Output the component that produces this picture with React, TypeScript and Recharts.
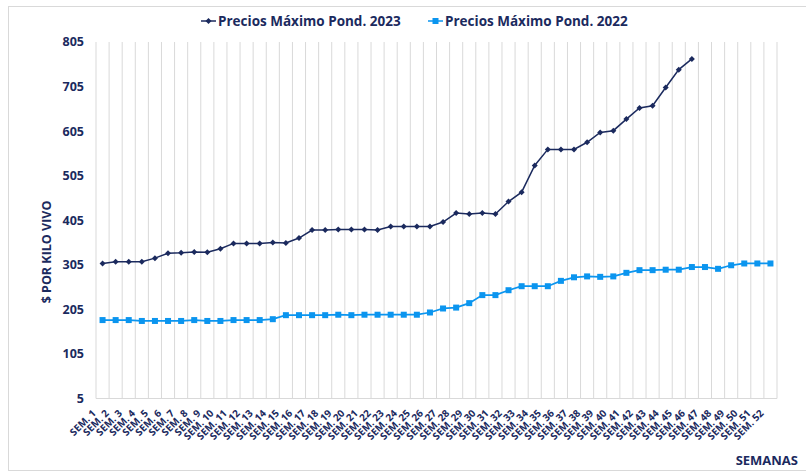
import { LineChart, Line, XAxis, YAxis, CartesianGrid } from "recharts";

const weeks = [
  "SEM. 1", "SEM. 2", "SEM. 3", "SEM. 4", "SEM. 5", "SEM. 6", "SEM. 7", "SEM. 8", "SEM. 9", "SEM. 10",
  "SEM. 11", "SEM. 12", "SEM. 13", "SEM. 14", "SEM. 15", "SEM. 16", "SEM. 17", "SEM. 18", "SEM. 19", "SEM. 20",
  "SEM. 21", "SEM. 22", "SEM. 23", "SEM. 24", "SEM. 25", "SEM. 26", "SEM. 27", "SEM. 28", "SEM. 29", "SEM. 30",
  "SEM. 31", "SEM. 32", "SEM. 33", "SEM. 34", "SEM. 35", "SEM. 36", "SEM. 37", "SEM. 38", "SEM. 39", "SEM. 40",
  "SEM. 41", "SEM. 42", "SEM. 43", "SEM. 44", "SEM. 45", "SEM. 46", "SEM. 47", "SEM. 48", "SEM. 49", "SEM. 50",
  "SEM. 51", "SEM. 52",
];

// 2023 only runs to week 46
const precios2023 = [
  308, 312, 312, 312, 320, 331, 332, 334, 333, 341,
  353, 353, 353, 355, 354, 365, 383, 383, 384, 384,
  384, 383, 391, 391, 391, 391, 401, 421, 419, 421,
  419, 447, 468, 528, 564, 564, 564, 580, 602, 606,
  632, 657, 662, 703, 743, 767,
];

const precios2022 = [
  181, 181, 181, 179, 179, 179, 179, 181, 179, 179,
  181, 181, 181, 183, 192, 192, 192, 192, 193, 192,
  193, 193, 193, 193, 193, 198, 207, 209, 219, 237,
  237, 248, 257, 257, 257, 269, 277, 279, 278, 279,
  287, 293, 293, 294, 294, 300, 300, 296, 304, 308,
  308, 308,
];

const yTicks = [5, 105, 205, 305, 405, 505, 605, 705, 805];

const NAVY = "#1b2a5e";
const BLUE = "#0b95ef";
const GRID = "#d9d9d9";
const FONT = "'Open Sans', sans-serif";

const data = weeks.map((w, i) => ({
  week: w,
  p2023: i < precios2023.length ? precios2023[i] : null,
  p2022: precios2022[i],
}));

const DiamondDot = (props: any) => {
  const { cx, cy, index } = props;
  if (cx == null || cy == null) return <g key={`d23-${index}`} />;
  const r = 3;
  return (
    <polygon
      key={`d23-${index}`}
      points={`${cx},${cy - r} ${cx + r},${cy} ${cx},${cy + r} ${cx - r},${cy}`}
      fill={NAVY}
    />
  );
};

const SquareDot = (props: any) => {
  const { cx, cy, index } = props;
  if (cx == null || cy == null) return <g key={`d22-${index}`} />;
  return <rect key={`d22-${index}`} x={cx - 3} y={cy - 3} width={6} height={6} fill={BLUE} />;
};

const WeekTick = (props: any) => {
  const { x, y, payload } = props;
  const px = x - 8.5;
  const py = y + 13;
  return (
    <text
      x={px}
      y={py}
      dy="0.35em"
      transform={`rotate(-45 ${px} ${py})`}
      textAnchor="end"
      fill={NAVY}
      fontSize={10}
      fontWeight={700}
      fontFamily={FONT}
    >
      {payload.value}
    </text>
  );
};

const LegendItem = ({ left, color, square, label }: any) => (
  <div style={{ position: "absolute", left, top: 0, display: "flex", alignItems: "center" }}>
    <svg width={15} height={10} style={{ marginRight: 2 }}>
      <line x1={0} y1={5} x2={15} y2={5} stroke={color} strokeWidth={1.5} />
      {square ? (
        <rect x={4.5} y={2} width={6} height={6} fill={color} />
      ) : (
        <polygon points="7.5,2 10.5,5 7.5,8 4.5,5" fill={color} />
      )}
    </svg>
    <span style={{ fontFamily: FONT, fontWeight: 700, fontSize: 13.5, color: NAVY, whiteSpace: "nowrap" }}>
      {label}
    </span>
  </div>
);

export default function App() {
  return (
    <div style={{ position: "absolute", left: 0, top: 0, width: 806, height: 473, background: "#fff", overflow: "hidden" }}>
      <div
        style={{
          position: "absolute",
          left: 8,
          top: 6,
          width: 820,
          height: 465,
          border: `1px solid ${GRID}`,
          boxSizing: "border-box",
        }}
      />
      <div style={{ position: "absolute", left: 0, top: 12, width: 806, height: 20 }}>
        <LegendItem left={201} color={NAVY} label="Precios Máximo Pond. 2023" />
        <LegendItem left={428} color={BLUE} square label="Precios Máximo Pond. 2022" />
      </div>
      <div style={{ position: "absolute", left: 0, top: 0 }}>
        <LineChart width={806} height={473} data={data} margin={{ top: 42, right: 29, left: 0, bottom: 0 }}>
          <CartesianGrid
            horizontal={false}
            stroke={GRID}
            strokeWidth={1}
            verticalCoordinatesGenerator={({ offset }: any) =>
              weeks.concat([""]).map((_, i) => offset.left + (i * offset.width) / weeks.length)
            }
          />
          <XAxis
            dataKey="week"
            interval={0}
            height={74.5}
            padding={{ left: 6.55, right: 6.55 }}
            axisLine={{ stroke: GRID }}
            tickLine={false}
            tickSize={0}
            tickMargin={0}
            tick={<WeekTick />}
            label={{
              content: () => (
                <text x={798} y={460} dy="0.35em" textAnchor="end" fill={NAVY} fontSize={13} fontWeight={700} fontFamily={FONT}>
                  SEMANAS
                </text>
              ),
            }}
          />
          <YAxis
            domain={[5, 805]}
            ticks={yTicks}
            interval={0}
            width={96}
            axisLine={false}
            tickLine={false}
            tickSize={0}
            tickMargin={12}
            tick={{ fill: NAVY, fontSize: 12.5, fontWeight: 700, fontFamily: FONT }}
            label={{
              content: () => (
                <text
                  x={46.5}
                  y={252}
                  dy="0.35em"
                  transform="rotate(-90 46.5 252)"
                  textAnchor="middle"
                  fill={NAVY}
                  fontSize={12.5}
                  fontWeight={700}
                  fontFamily={FONT}
                >
                  $ POR KILO VIVO
                </text>
              ),
            }}
          />
          <Line
            type="linear"
            dataKey="p2022"
            stroke={BLUE}
            strokeWidth={1.75}
            dot={SquareDot}
            activeDot={false}
            isAnimationActive={false}
          />
          <Line
            type="linear"
            dataKey="p2023"
            stroke={NAVY}
            strokeWidth={1.5}
            dot={DiamondDot}
            activeDot={false}
            isAnimationActive={false}
          />
        </LineChart>
      </div>
    </div>
  );
}
